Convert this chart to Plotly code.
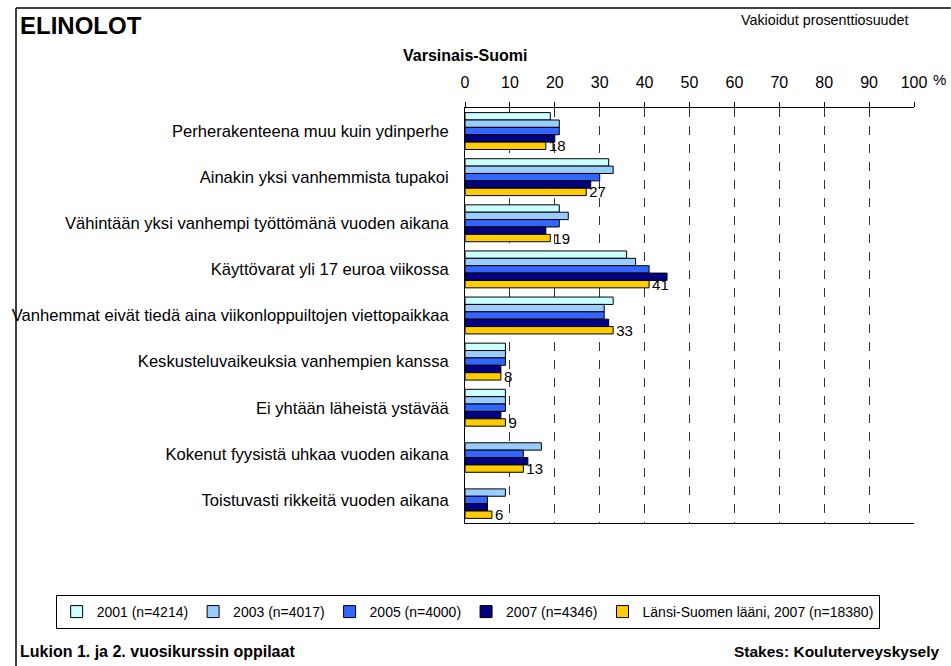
import plotly.graph_objects as go

# Elinolot, Varsinais-Suomi: vakioidut prosenttiosuudet
CATEGORIES = [
    "Perherakenteena muu kuin ydinperhe",
    "Ainakin yksi vanhemmista tupakoi",
    "Vähintään yksi vanhempi työttömänä vuoden aikana",
    "Käyttövarat yli 17 euroa viikossa",
    "Vanhemmat eivät tiedä aina viikonloppuiltojen viettopaikkaa",
    "Keskusteluvaikeuksia vanhempien kanssa",
    "Ei yhtään läheistä ystävää",
    "Kokenut fyysistä uhkaa vuoden aikana",
    "Toistuvasti rikkeitä vuoden aikana",
]

SERIES_NAMES = [
    "2001 (n=4214)",
    "2003 (n=4017)",
    "2005 (n=4000)",
    "2007 (n=4346)",
    "Länsi-Suomen lääni, 2007 (n=18380)",
]

V2001 = [19, 32, 21, 36, 33, 9, 9, None, None]
V2003 = [21, 33, 23, 38, 31, 9, 9, 17, 9]
V2005 = [21, 30, 21, 41, 31, 9, 9, 13, 5]
V2007 = [20, 28, 18, 45, 32, 8, 8, 14, 5]
LAANI = [18, 27, 19, 41, 33, 8, 9, 13, 6]

COLORS = ["#CCFFFF", "#99CCFF", "#3366FF", "#000080", "#FFCC00"]

FONT = "Liberation Sans, Arial, sans-serif"
W, H = 951, 666
# plot area in pixels
PL, PR, PT, PB = 461, 914, 108, 523


def px(x):
    return (x - PL) / (PR - PL)


def py(y):
    return (PB - y) / (PB - PT)


fig = go.Figure()
for i, (name, vals) in enumerate(zip(SERIES_NAMES, [V2001, V2003, V2005, V2007, LAANI])):
    last = i == 4
    fig.add_trace(go.Bar(
        y=CATEGORIES, x=vals, orientation="h", name=name,
        marker=dict(color=COLORS[i], line=dict(color="black", width=1)),
        text=vals if last else None,
        textposition="outside" if last else None,
        constraintext="none",
        textfont=dict(size=15, color="black", family=FONT),
        cliponaxis=False,
    ))

fig.update_xaxes(
    range=[0, 100], dtick=10, side="top",
    showgrid=True, griddash="dash", gridcolor="#333333", gridwidth=1,
    showline=True, linecolor="black", linewidth=1, mirror=True,
    ticks="outside", ticklen=5, tickcolor="black", ticklabelstandoff=8,
    tickfont=dict(size=16, color="black"), zeroline=False,
)
fig.update_yaxes(
    type="category", autorange="reversed",
    showline=True, linecolor="black", linewidth=1,
    ticks="", tickfont=dict(size=16.6, color="black"), ticklabelstandoff=12,
    showgrid=False,
)

ann = [
    dict(text="<b>ELINOLOT</b>", x=px(10), y=py(25), xanchor="left", yanchor="middle",
         font=dict(size=24)),
    dict(text="Vakioidut prosenttiosuudet", x=px(910), y=py(20), xanchor="right",
         yanchor="middle", font=dict(size=14.3)),
    dict(text="<b>Varsinais-Suomi</b>", x=px(462), y=py(55), xanchor="center",
         yanchor="middle", font=dict(size=16)),
    dict(text="%", x=px(940), y=py(80), xanchor="center", yanchor="middle",
         font=dict(size=15)),
    dict(text="<b>Lukion 1. ja 2. vuosikurssin oppilaat</b>", x=px(10), y=py(651),
         xanchor="left", yanchor="middle", font=dict(size=16)),
    dict(text="<b>Stakes: Kouluterveyskysely</b>", x=px(941), y=py(651),
         xanchor="right", yanchor="middle", font=dict(size=15.5)),
]
for a in ann:
    a.update(xref="paper", yref="paper", showarrow=False)
    a["font"].update(family=FONT, color="black")

shapes = [
    dict(type="line", x0=px(8), x1=px(951), y0=py(8), y1=py(8)),
    dict(type="line", x0=px(8), x1=px(8), y0=py(8), y1=py(666)),
]
for s in shapes:
    s.update(xref="paper", yref="paper", line=dict(color="black", width=1.5))

fig.update_layout(
    width=W, height=H,
    margin=dict(l=PL, r=W - PR, t=PT, b=H - PB),
    barmode="group", bargap=0.2, bargroupgap=0,
    plot_bgcolor="white", paper_bgcolor="white",
    font=dict(family=FONT, color="black"),
    annotations=ann, shapes=shapes,
    legend=dict(
        orientation="h", x=px(48), xanchor="left", y=py(612), yanchor="middle",
        font=dict(size=14, family=FONT), bordercolor="black", borderwidth=1,
        itemwidth=30, traceorder="normal", tracegroupgap=0,
        bgcolor="white",
    ),
)

# the page body has a default 8px margin; drop it so the figure fills the window
fig.write_html("out.html", config={"displayModeBar": False},
               post_script="document.body.style.margin='0';")
